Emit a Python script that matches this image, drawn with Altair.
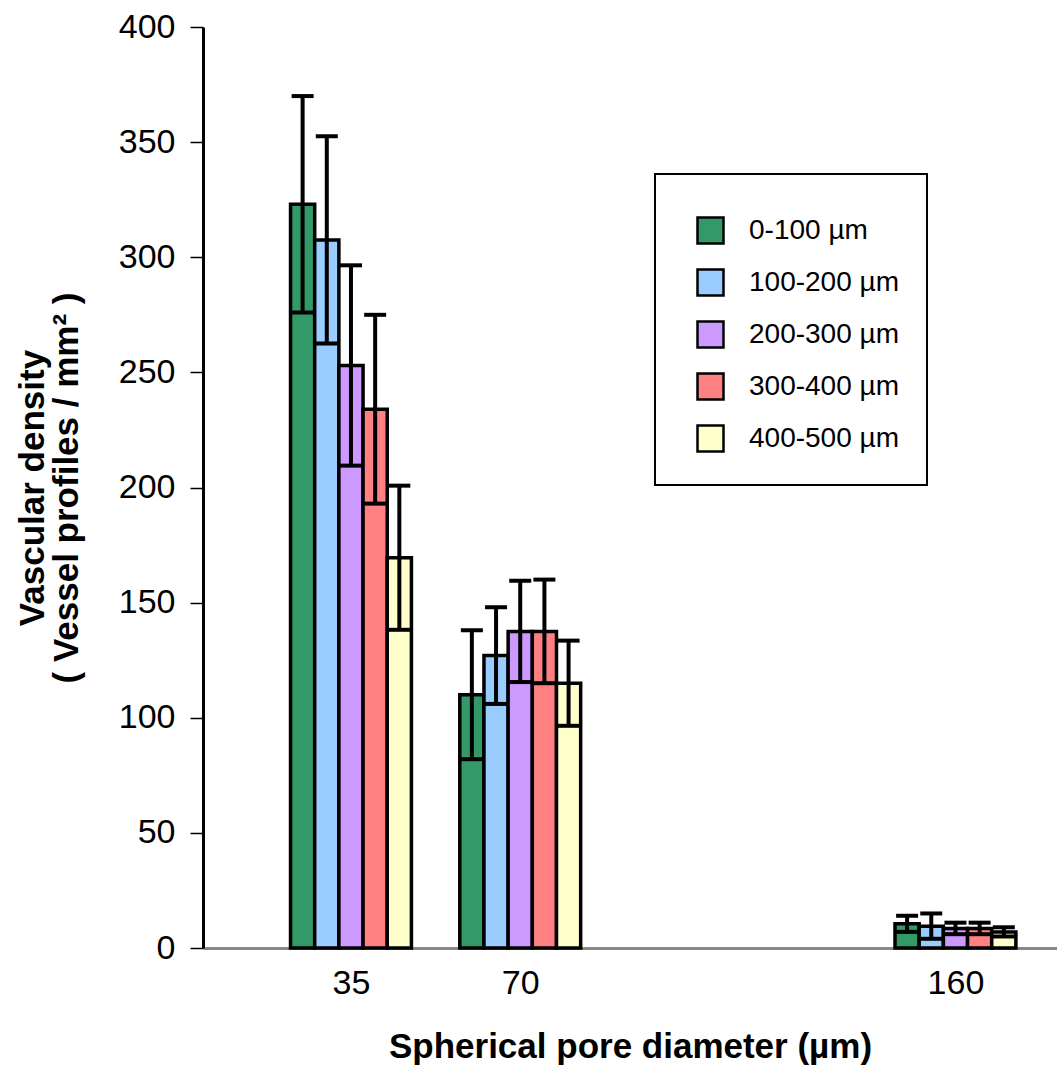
import altair as alt
import pandas as pd

# ---- data ----
diameters = [35, 70, 160]
depth_bins = ["0-100 µm", "100-200 µm", "200-300 µm", "300-400 µm", "400-500 µm"]
bin_colors = ["#339966", "#99CCFF", "#CC99FF", "#FF8080", "#FFFFCC"]

density_35 = [323, 307.5, 253, 234, 169.5]
error_35 = [47, 45, 43.5, 41, 31.3]
density_70 = [110, 127, 137.5, 137.5, 115]
error_70 = [28, 21, 22, 22.5, 18.5]
density_160 = [10.5, 9.5, 8.5, 8.5, 7]
error_160 = [3.5, 5.5, 2.5, 2.5, 2]

y_ticks = [0, 50, 100, 150, 200, 250, 300, 350, 400]

rows = []
for d, vals, errs in zip(diameters,
                         [density_35, density_70, density_160],
                         [error_35, error_70, error_160]):
    for i, (b, v, e) in enumerate(zip(depth_bins, vals, errs)):
        rows.append({"diameter": d, "bin": b, "idx": i, "density": v, "err": e})
df = pd.DataFrame(rows)

BAR_W = 5  # bar width in x data units

base = alt.Chart(df).transform_calculate(
    x0=f"datum.diameter + (datum.idx - 2.5) * {BAR_W}",
    x1=f"datum.diameter + (datum.idx - 1.5) * {BAR_W}",
    xc=f"datum.diameter + (datum.idx - 2) * {BAR_W}",
    lo="datum.density - datum.err",
    hi="datum.density + datum.err",
)

x_scale = alt.Scale(domain=[4.4, 181], nice=False, zero=False)
y_scale = alt.Scale(domain=[0, 400], nice=False)

x_axis = alt.Axis(
    values=diameters, ticks=False, tickSize=0, grid=False,
    labelFont="Liberation Sans", labelFontSize=34, labelPadding=18,
    labelColor="black", labelFlush=False, labelOverlap=False,
    domainColor="#888888", domainWidth=3,
    titleFont="Liberation Sans", titleFontSize=35, titleFontWeight="bold",
    titleColor="black", titlePadding=29,
)
y_axis = alt.Axis(
    values=y_ticks, tickSize=13, tickColor="black", tickWidth=1.5, grid=False,
    domainColor="black", domainWidth=3,
    labelFont="Liberation Sans", labelFontSize=34, labelPadding=15, labelColor="black",
    titleFont="Liberation Sans", titleFontSize=35, titleFontWeight="bold",
    titleColor="black", titleLineHeight=34, titlePadding=34,
)
x_title = "Spherical pore diameter (µm)"
y_title = ["Vascular density", "( Vessel profiles / mm² )"]

bars = base.mark_bar(stroke="black", strokeWidth=3.5).encode(
    x=alt.X("x0:Q", scale=x_scale, axis=x_axis, title=x_title),
    x2="x1:Q",
    y=alt.Y("density:Q", scale=y_scale, axis=y_axis, title=y_title),
    y2=alt.datum(0),
    color=alt.Color(
        "bin:N",
        scale=alt.Scale(domain=depth_bins, range=bin_colors),
        legend=alt.Legend(
            title=" ", titleFontSize=10, titlePadding=4,
            orient="none", legendX=452, legendY=147,
            padding=28, strokeColor="black", fillColor="white",
            symbolType="square", symbolSize=676, symbolStrokeColor="black",
            symbolStrokeWidth=2.5, symbolOpacity=1, symbolOffset=13,
            labelFont="Liberation Sans", labelFontSize=28, labelColor="black",
            labelOffset=24, rowPadding=15, labelLimit=300,
        ),
    ),
)

rules = base.mark_rule(color="black", strokeWidth=4).encode(
    x=alt.X("xc:Q", scale=x_scale, axis=x_axis, title=x_title),
    y=alt.Y("lo:Q", scale=y_scale, axis=y_axis, title=y_title),
    y2="hi:Q",
)

caps_hi = base.mark_tick(color="black", thickness=4, size=22, orient="horizontal", opacity=1).encode(
    x=alt.X("xc:Q", scale=x_scale, axis=x_axis, title=x_title),
    y=alt.Y("hi:Q", scale=y_scale, axis=y_axis, title=y_title),
)
caps_lo = base.mark_tick(color="black", thickness=4, size=22, orient="horizontal", opacity=1).encode(
    x=alt.X("xc:Q", scale=x_scale, axis=x_axis, title=x_title),
    y=alt.Y("lo:Q", scale=y_scale, axis=y_axis, title=y_title),
)

chart = alt.layer(bars, rules, caps_hi, caps_lo).properties(
    width=854,
    height=921,
    autosize=alt.AutoSizeParams(type="none"),
    padding={"left": 203, "top": 27, "right": 0, "bottom": 119},
    background="white",
).configure_view(strokeWidth=0).configure_legend(strokeWidth=2)

chart.save("out.html", embed_options={"renderer": "svg", "actions": False})
